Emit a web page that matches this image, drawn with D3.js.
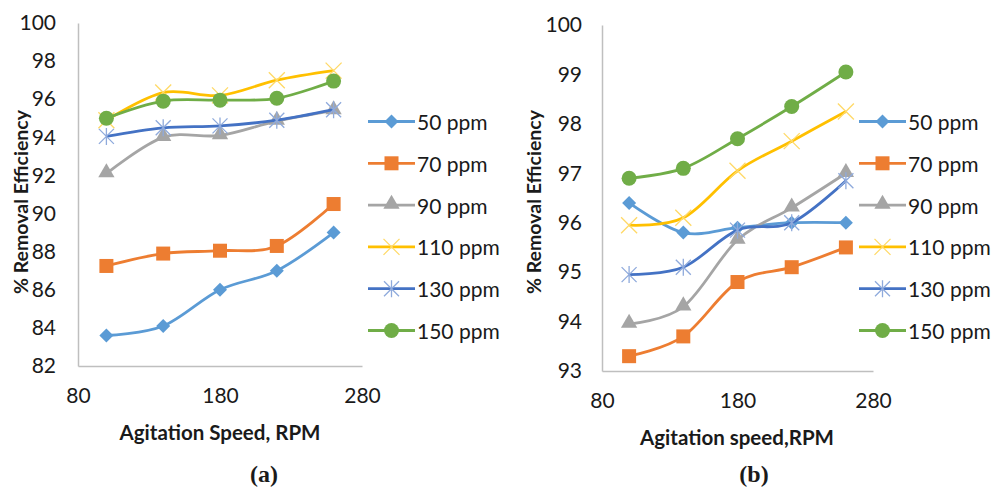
<!DOCTYPE html>
<html>
<head>
<meta charset="utf-8">
<script src="https://cdn.jsdelivr.net/npm/d3@7/dist/d3.min.js"></script>
<style>
  html, body { margin: 0; padding: 0; background: #fff; }
  svg { display: block; }
  text { font-family: Lato, "Open Sans", sans-serif; fill: #1a1a1a; }
</style>
</head>
<body>
<svg id="chart" width="994" height="488"></svg>
<script>
// Agitation speed (RPM) for every measurement
const rpm = [100, 140, 180, 220, 260];

// Concentration series labels
const seriesNames = ["50 ppm", "70 ppm", "90 ppm", "110 ppm", "130 ppm", "150 ppm"];

// Panel (a): % removal efficiency
const a50  = [83.6, 84.1, 86.0, 87.0, 89.0];
const a70  = [87.25, 87.9, 88.05, 88.3, 90.5];
const a90  = [92.1, 94.0, 94.1, 94.85, 95.4];
const a110 = [94.9, 96.35, 96.2, 97.0, 97.5];
const a130 = [94.05, 94.5, 94.6, 94.9, 95.45];
const a150 = [95.0, 95.9, 95.95, 96.05, 96.95];

// Panel (b): % removal efficiency
const b50  = [96.4, 95.8, 95.9, 96.0, 96.0];
const b70  = [93.3, 93.7, 94.8, 95.1, 95.5];
const b90  = [93.95, 94.3, 95.65, 96.3, 97.0];
const b110 = [95.95, 96.1, 97.05, 97.65, 98.25];
const b130 = [94.95, 95.1, 95.85, 96.0, 96.85];
const b150 = [96.9, 97.1, 97.7, 98.35, 99.05];

// Axis ticks
const xTicks = [80, 180, 280];
const yTicksA = [82, 84, 86, 88, 90, 92, 94, 96, 98, 100];
const yTicksB = [93, 94, 95, 96, 97, 98, 99, 100];

const colors = ["#5b9bd5", "#ed7d31", "#a5a5a5", "#ffc000", "#4472c4", "#70ad47"];
const markerColors = ["#5b9bd5", "#ed7d31", "#a5a5a5", "#ffd966", "#8faadc", "#70ad47"];
const markerTypes = ["diamond", "square", "triangle", "times", "asterisk", "circle"];

const svg = d3.select("#chart");

function drawMarker(g, type, x, y, color) {
  if (type === "diamond") {
    const r = 7;
    g.append("path").attr("d", `M${x},${y - r}L${x + r},${y}L${x},${y + r}L${x - r},${y}Z`)
      .attr("fill", color);
  } else if (type === "square") {
    g.append("rect").attr("x", x - 7).attr("y", y - 7)
      .attr("width", 14).attr("height", 14).attr("fill", color);
  } else if (type === "triangle") {
    g.append("path").attr("d", d3.symbol(d3.symbolTriangle, 115)())
      .attr("transform", `translate(${x},${y - 1})`).attr("fill", color);
  } else if (type === "circle") {
    g.append("circle").attr("cx", x).attr("cy", y).attr("r", 7.5).attr("fill", color);
  } else if (type === "times") {
    const r = 8;
    g.append("path")
      .attr("d", `M${x - r},${y - r}L${x + r},${y + r}M${x - r},${y + r}L${x + r},${y - r}`)
      .attr("stroke", color).attr("stroke-width", 1.3).attr("fill", "none");
  } else if (type === "asterisk") {
    const r = 7.5;
    g.append("path")
      .attr("d", `M${x - r},${y - r}L${x + r},${y + r}M${x - r},${y + r}L${x + r},${y - r}M${x},${y - r - 1}L${x},${y + r + 1}`)
      .attr("stroke", color).attr("stroke-width", 1.3).attr("fill", "none");
  }
}

function drawPanel(cfg) {
  const x = d3.scaleLinear().domain([80, 280]).range(cfg.xRange);
  const y = d3.scaleLinear().domain(cfg.yDomain).range(cfg.yRange);
  const g = svg.append("g");

  // axes (no tick marks, grey domain lines)
  const xAxis = g.append("g").attr("transform", `translate(0,${cfg.yRange[0]})`)
    .call(d3.axisBottom(x).tickValues(xTicks).tickSize(0).tickPadding(cfg.xPad).tickFormat(d3.format("d")));
  const yAxis = g.append("g").attr("transform", `translate(${cfg.xRange[0]},0)`)
    .call(d3.axisLeft(y).tickValues(cfg.yTicks).tickSize(0).tickPadding(cfg.yPad).tickFormat(d3.format("d")));
  [xAxis, yAxis].forEach(ax => {
    ax.select(".domain").attr("stroke", "#bfbfbf").attr("stroke-width", 1.5);
    ax.selectAll("text").style("font-family", "Lato, sans-serif")
      .style("font-size", "21px").attr("fill", "#1f1f1f");
  });

  const line = d3.line()
    .x((d, i) => x(rpm[i]))
    .y(d => y(d))
    .curve(d3.curveCardinal.tension(0));

  cfg.series.forEach((vals, k) => {
    g.append("path").datum(vals).attr("d", line)
      .attr("fill", "none").attr("stroke", colors[k]).attr("stroke-width", 2.8)
      .attr("stroke-linejoin", "round");
    const mg = g.append("g");
    vals.forEach((v, i) => drawMarker(mg, markerTypes[k], x(rpm[i]), y(v), markerColors[k]));
  });

  // axis titles
  g.append("text")
    .attr("x", cfg.xTitle[0]).attr("y", cfg.xTitle[1])
    .attr("text-anchor", "middle").attr("dominant-baseline", "central")
    .style("font-size", "20.5px").style("font-weight", "bold")
    .text(cfg.xLabel);
  g.append("text")
    .attr("transform", `translate(${cfg.yTitle[0]},${cfg.yTitle[1]}) rotate(-90)`)
    .attr("text-anchor", "middle").attr("dominant-baseline", "central")
    .style("font-size", "19.5px").style("font-weight", "bold")
    .text("% Removal Efficiency");

  // legend
  const lg = g.append("g");
  seriesNames.forEach((name, k) => {
    const ly = cfg.legend[1] + k * 41.8;
    const lx = cfg.legend[0];
    lg.append("line").attr("x1", lx).attr("x2", lx + 47).attr("y1", ly).attr("y2", ly)
      .attr("stroke", colors[k]).attr("stroke-width", 2.8);
    drawMarker(lg, markerTypes[k], lx + 23.5, ly, markerColors[k]);
    lg.append("text").attr("x", lx + 49).attr("y", ly)
      .attr("dominant-baseline", "central")
      .style("font-size", "21px").text(name);
  });

  // panel caption
  g.append("text")
    .attr("x", cfg.caption[0]).attr("y", cfg.caption[1])
    .attr("text-anchor", "middle")
    .style("font-family", "'Liberation Serif', 'DejaVu Serif', serif")
    .style("font-size", "24px").style("font-weight", "bold")
    .text(cfg.captionText);
}

drawPanel({
  xRange: [78, 362], yDomain: [82, 100], yRange: [366, 23],
  yTicks: yTicksA, xPad: 22, yPad: 22,
  series: [a50, a70, a90, a110, a130, a150],
  xLabel: "Agitation Speed, RPM", xTitle: [220, 432], yTitle: [20, 202],
  legend: [368, 121.5], caption: [264, 482], captionText: "(a)"
});

drawPanel({
  xRange: [602, 873], yDomain: [93, 100], yRange: [371, 25],
  yTicks: yTicksB, xPad: 22, yPad: 20,
  series: [b50, b70, b90, b110, b130, b150],
  xLabel: "Agitation speed,RPM", xTitle: [737, 437], yTitle: [533, 202],
  legend: [859, 121.5], caption: [754, 482], captionText: "(b)"
});
</script>
</body>
</html>
